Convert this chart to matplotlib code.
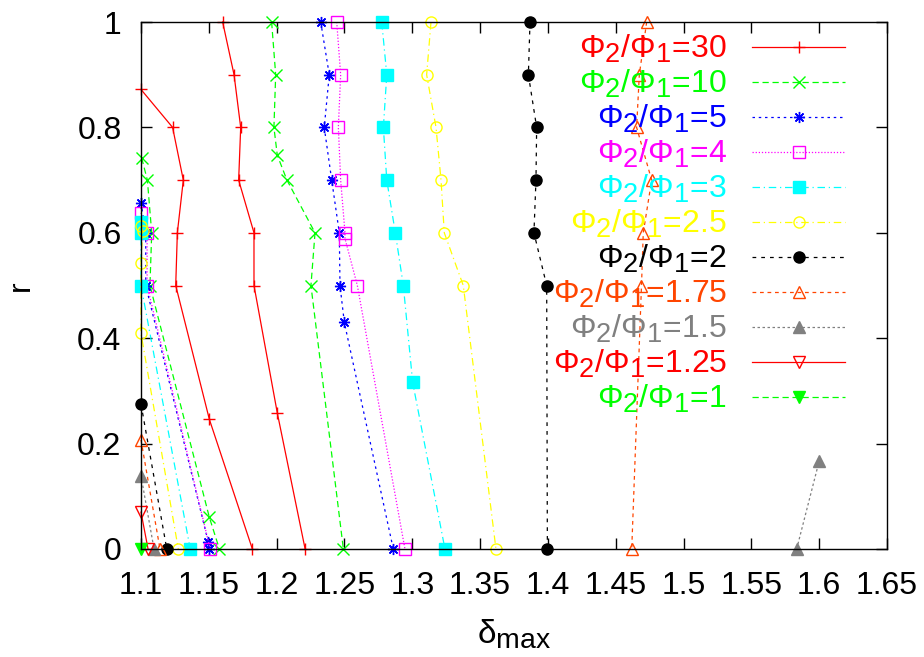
import numpy as np
import matplotlib
matplotlib.use("Agg")
import matplotlib.pyplot as plt
import matplotlib._mathtext as mathtext_mod
from matplotlib.ticker import FormatStrFormatter

# gnuplot 的下标比 matplotlib 默认的大一些
mathtext_mod.SHRINK_FACTOR = 0.85

# ===== 字体 / 全局设置 =====
plt.rcParams.update({
    'font.family': ['Liberation Sans', 'DejaVu Sans'],
    'mathtext.fontset': 'custom',
    'mathtext.rm': 'Liberation Sans',
    'mathtext.it': 'Liberation Sans',
    'mathtext.default': 'regular',
    'font.size': 23,
})

nan = np.nan

# ===== 数据 (delta_max, r)，两段之间用 nan 隔开 =====
ratios = ["30", "10", "5", "4", "3", "2.5", "2", "1.75", "1.5", "1.25", "1"]

d_30 = [1.1, 1.1233, 1.1312, 1.1268, 1.1256, 1.1504, 1.1821, nan,
        1.1602, 1.1686, 1.1735, 1.172, 1.1833, 1.1833, 1.2005, 1.221]
r_30 = [0.872, 0.8, 0.7, 0.6, 0.5, 0.246, 0, nan,
        1, 0.9, 0.8, 0.7, 0.6, 0.5, 0.258, 0]

d_10 = [1.1005, 1.1047, 1.1079, 1.1066, 1.1504, 1.1578, nan,
        1.1963, 1.1993, 1.198, 1.2005, 1.2076, 1.2283, 1.2253, 1.2492]
r_10 = [0.742, 0.7, 0.6, 0.5, 0.06, 0, nan,
        1, 0.9, 0.8, 0.747, 0.7, 0.6, 0.5, 0]

d_5 = [1.1, 1.1035, 1.1035, 1.1496, 1.1505, nan,
       1.2325, 1.2388, 1.2351, 1.2406, 1.2462, 1.2467, 1.2499, 1.286]
r_5 = [0.657, 0.6, 0.5, 0.013, 0, nan,
       1, 0.9, 0.8, 0.7, 0.6, 0.5, 0.43, 0]

d_4 = [1.1, 1.1045, 1.1045, 1.151, nan,
       1.2443, 1.2472, 1.2455, 1.2472, 1.2504, 1.2504, 1.2595, 1.2946]
r_4 = [0.638, 0.6, 0.5, 0, nan,
       1, 0.9, 0.8, 0.7, 0.6, 0.589, 0.5, 0]

d_3 = [1.1, 1.1, 1.1, 1.1363, nan,
       1.2775, 1.2812, 1.2787, 1.2812, 1.2875, 1.2934, 1.3003, 1.3241]
r_3 = [0.621, 0.6, 0.5, 0, nan,
       1, 0.9, 0.8, 0.7, 0.6, 0.5, 0.316, 0]

d_25 = [1.1, 1.1012, 1.1, 1.1, 1.1275, nan,
        1.3138, 1.3106, 1.3175, 1.3212, 1.3236, 1.3376, 1.3617]
r_25 = [0.612, 0.604, 0.543, 0.409, 0, nan,
        1, 0.9, 0.8, 0.7, 0.6, 0.5, 0]

d_2 = [1.1, 1.119, nan, 1.3868, 1.3856, 1.3917, 1.3912, 1.3897, 1.3991, 1.3996]
r_2 = [0.275, 0, nan, 1, 0.9, 0.8, 0.7, 0.6, 0.5, 0]

d_175 = [1.1, 1.114, nan, 1.4728, 1.4674, 1.4654, 1.4765, 1.4703, 1.469, 1.4618]
r_175 = [0.207, 0, nan, 1, 0.9, 0.8, 0.7, 0.6, 0.5, 0]

d_15 = [1.1, 1.1096, nan, 1.5834, 1.6]
r_15 = [0.139, 0, nan, 0, 0.167]

d_125 = [1.1, 1.1052]
r_125 = [0.07, 0]

d_1 = [1.1]
r_1 = [0]

xs = [d_30, d_10, d_5, d_4, d_3, d_25, d_2, d_175, d_15, d_125, d_1]
ys = [r_30, r_10, r_5, r_4, r_3, r_25, r_2, r_175, r_15, r_125, r_1]

# ===== 样式 (gnuplot 风格) =====
colors = ['#ff0000', '#00ff00', '#0000ff', '#ff00ff', '#00ffff', '#ffff00',
          '#000000', '#ff4500', '#808080', '#ff0000', '#00ff00']
markers = ['+', 'x', (8, 2, 0), 's', 's', 'o', 'o', '^', '^', 'v', 'v']
filled = [True, True, True, False, True, False, True, False, True, False, True]
lstyles = ['-', (0, (5, 3)), (0, (2, 3)), (0, (1, 1.5)), (0, (6, 3, 1, 3)),
           (0, (6, 3, 1, 3)), (0, (3, 4)), (0, (3, 3)), (0, (2, 2)), '-', (0, (5, 3))]

fig = plt.figure(figsize=(9.24, 6.57), dpi=100)
ax = fig.add_axes([141 / 924, 108 / 657, 746 / 924, 527 / 657])

for x, y, lab, c, m, f, ls in zip(xs, ys, ratios, colors, markers, filled, lstyles):
    ax.plot(x, y, color=c, linestyle=ls, linewidth=0.9, marker=m,
            markersize=8, markeredgewidth=1.0,
            markerfacecolor=c if f else 'none', markeredgecolor=c,
            clip_on=False, label='Φ$_2$/Φ$_1$=' + lab)

ax.set_xlim(1.1, 1.65)
ax.set_ylim(0, 1)
ax.set_xticks(np.arange(1.1, 1.651, 0.05))
ax.set_yticks(np.arange(0, 1.01, 0.2))
ax.xaxis.set_major_formatter(FormatStrFormatter('%g'))
ax.yaxis.set_major_formatter(FormatStrFormatter('%g'))
ax.tick_params(direction='in', length=8, width=1, top=True, right=True,
               labelsize=23)
ax.tick_params(axis='x', pad=16)
ax.tick_params(axis='y', pad=14)
for s in ax.spines.values():
    s.set_linewidth(1.0)

ax.set_xlabel('δ$_{max}$', fontsize=24, labelpad=12)
ax.set_ylabel('r', fontsize=23, labelpad=30)

# 图例: 文字在左、右对齐，样线在右
leg = ax.legend(loc='upper right', bbox_to_anchor=((845 - 141) / 746, (549 - 33) / 527),
                frameon=False, markerfirst=False, numpoints=1, fontsize=23,
                handlelength=2.9, handletextpad=0.8, labelspacing=0.09,
                borderpad=0, borderaxespad=0)
for col in leg._legend_handle_box.get_children():
    col.align = 'right'
for t, c in zip(leg.get_texts(), colors):
    t.set_color(c)

fig.savefig('out.png', dpi=100)
